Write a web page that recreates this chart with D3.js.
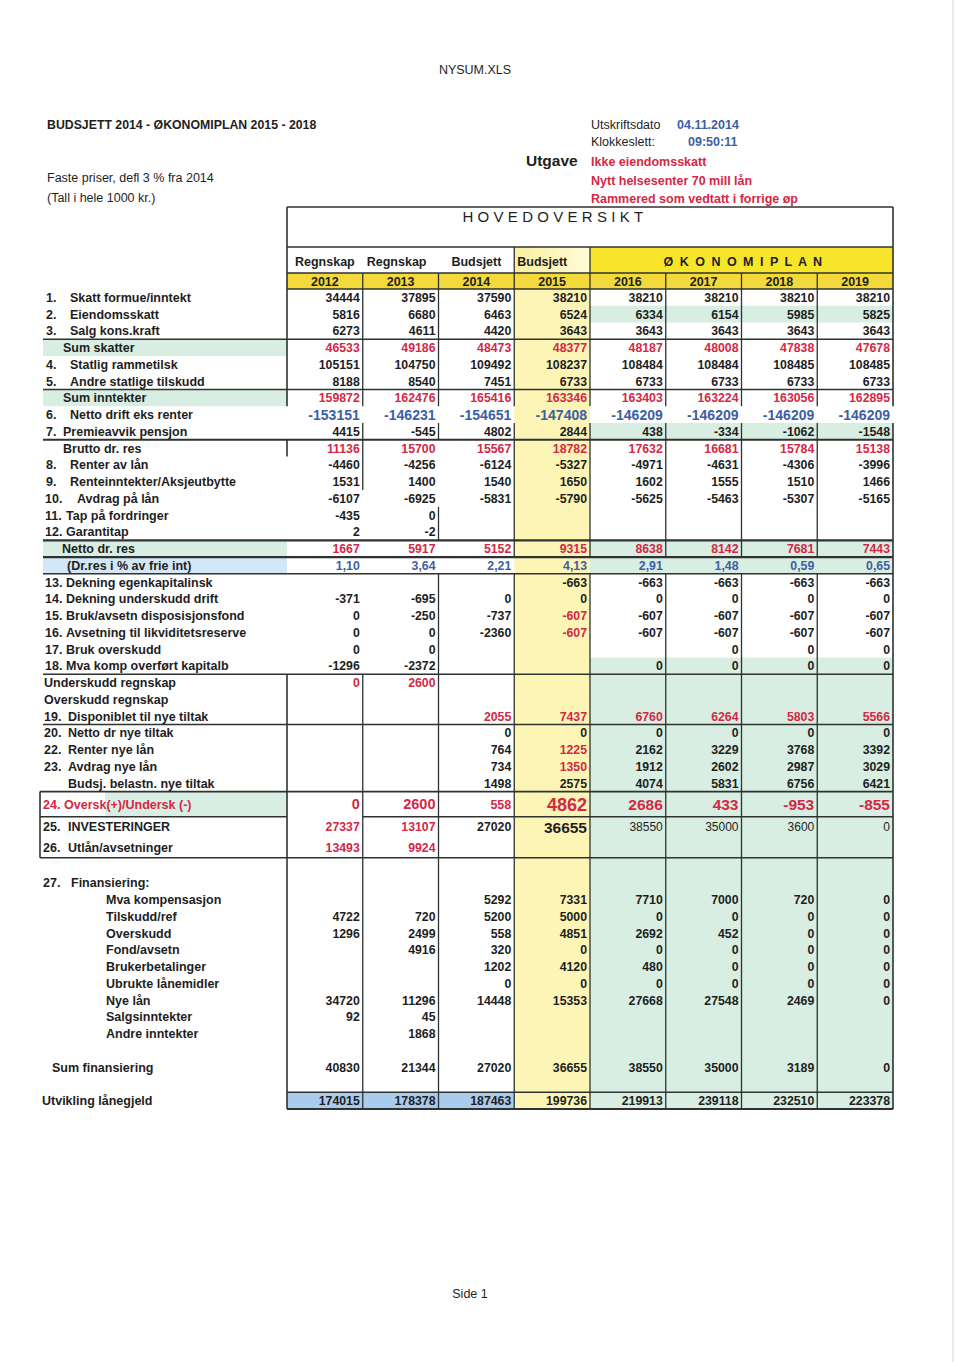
<!DOCTYPE html>
<html>
<head>
<meta charset="utf-8">
<script src="https://cdn.jsdelivr.net/npm/d3@7"></script>
<style>
  body { margin: 0; background: #fff; }
  svg text { font-family: "Liberation Sans", Arial, Helvetica, sans-serif; }
</style>
</head>
<body>
<div id="sheet"></div>
<script>
// ---- data read from the sheet ----
const years = [2012, 2013, 2014, 2015, 2016, 2017, 2018, 2019];
const colHeads = ["Regnskap", "Regnskap", "Budsjett", "Budsjett"];
const planHead = "Ø K O N O M I P L A N";
const utgave = ["Ikke eiendomsskatt", "Nytt helsesenter 70 mill lån", "Rammered som vedtatt i forrige øp"];

const N = null;
const rowNums = [
  "1.", "2.", "3.", "", "4.", "5.", "", "6.", "7.", "",
  "8.", "9.", "10.", "11.", "12.", "", "", "13.", "14.", "15.",
  "16.", "17.", "18.", "", "", "19.", "20.", "22.", "23.", "",
  "24.", "25.", "26.", "", "27.", "", "", "", "", "",
  "", "", "", "", "", "", "", ""
];
const rowLabels = [
  "Skatt formue/inntekt", "Eiendomsskatt", "Salg kons.kraft", "Sum skatter",
  "Statlig rammetilsk", "Andre statlige tilskudd", "Sum inntekter",
  "Netto drift eks renter", "Premieavvik pensjon", "Brutto dr. res",
  "Renter av lån", "Renteinntekter/Aksjeutbytte", "Avdrag på lån",
  "Tap på fordringer", "Garantitap", "Netto dr. res", "(Dr.res i % av frie int)",
  "Dekning egenkapitalinsk", "Dekning underskudd drift", "Bruk/avsetn disposisjonsfond",
  "Avsetning til likviditetsreserve", "Bruk overskudd", "Mva komp overført kapitalb",
  "Underskudd regnskap", "Overskudd regnskap", "Disponiblet til nye tiltak",
  "Netto dr nye tiltak", "Renter nye lån", "Avdrag nye lån", "Budsj. belastn. nye tiltak",
  "Oversk(+)/Undersk (-)", "INVESTERINGER", "Utlån/avsetninger", "",
  "Finansiering:", "Mva kompensasjon", "Tilskudd/ref", "Overskudd", "Fond/avsetn",
  "Brukerbetalinger", "Ubrukte lånemidler", "Nye lån", "Salgsinntekter", "Andre inntekter",
  "", "Sum finansiering", "", "Utvikling lånegjeld"
];
const rowValues = [
  [34444, 37895, 37590, 38210, 38210, 38210, 38210, 38210],
  [5816, 6680, 6463, 6524, 6334, 6154, 5985, 5825],
  [6273, 4611, 4420, 3643, 3643, 3643, 3643, 3643],
  [46533, 49186, 48473, 48377, 48187, 48008, 47838, 47678],
  [105151, 104750, 109492, 108237, 108484, 108484, 108485, 108485],
  [8188, 8540, 7451, 6733, 6733, 6733, 6733, 6733],
  [159872, 162476, 165416, 163346, 163403, 163224, 163056, 162895],
  [-153151, -146231, -154651, -147408, -146209, -146209, -146209, -146209],
  [4415, -545, 4802, 2844, 438, -334, -1062, -1548],
  [11136, 15700, 15567, 18782, 17632, 16681, 15784, 15138],
  [-4460, -4256, -6124, -5327, -4971, -4631, -4306, -3996],
  [1531, 1400, 1540, 1650, 1602, 1555, 1510, 1466],
  [-6107, -6925, -5831, -5790, -5625, -5463, -5307, -5165],
  [-435, 0, N, N, N, N, N, N],
  [2, -2, N, N, N, N, N, N],
  [1667, 5917, 5152, 9315, 8638, 8142, 7681, 7443],
  [1.10, 3.64, 2.21, 4.13, 2.91, 1.48, 0.59, 0.65],
  [N, N, N, -663, -663, -663, -663, -663],
  [-371, -695, 0, 0, 0, 0, 0, 0],
  [0, -250, -737, -607, -607, -607, -607, -607],
  [0, 0, -2360, -607, -607, -607, -607, -607],
  [0, 0, N, N, N, 0, 0, 0],
  [-1296, -2372, N, N, 0, 0, 0, 0],
  [0, 2600, N, N, N, N, N, N],
  [N, N, N, N, N, N, N, N],
  [N, N, 2055, 7437, 6760, 6264, 5803, 5566],
  [N, N, 0, 0, 0, 0, 0, 0],
  [N, N, 764, 1225, 2162, 3229, 3768, 3392],
  [N, N, 734, 1350, 1912, 2602, 2987, 3029],
  [N, N, 1498, 2575, 4074, 5831, 6756, 6421],
  [0, 2600, 558, 4862, 2686, 433, -953, -855],
  [27337, 13107, 27020, 36655, 38550, 35000, 3600, 0],
  [13493, 9924, N, N, N, N, N, N],
  [],
  [],
  [N, N, 5292, 7331, 7710, 7000, 720, 0],
  [4722, 720, 5200, 5000, 0, 0, 0, 0],
  [1296, 2499, 558, 4851, 2692, 452, 0, 0],
  [N, 4916, 320, 0, 0, 0, 0, 0],
  [N, N, 1202, 4120, 480, 0, 0, 0],
  [N, N, 0, 0, 0, 0, 0, 0],
  [34720, 11296, 14448, 15353, 27668, 27548, 2469, 0],
  [92, 45, N, N, N, N, N, N],
  [N, 1868, N, N, N, N, N, N],
  [],
  [40830, 21344, 27020, 36655, 38550, 35000, 3189, 0],
  [],
  [174015, 178378, 187463, 199736, 219913, 239118, 232510, 223378]
];

// ---- setup ----
const W = 960, H = 1362;
const RED = "#d42845", BLUE = "#3d5ea6", INK = "#1e1e1e";
const GREEN = "#d8eee2", PALE = "#fcf5b6", GOLD = "#f3d93c", YELLOW = "#f7e52c";
const LINE = "#2e3230";
const pct = d3.formatLocale({ decimal: ",", thousands: " ", grouping: [3], currency: ["", ""] }).format(".2f");

const svg = d3.select("#sheet").append("svg")
  .attr("width", W).attr("height", H);
svg.append("rect").attr("width", W).attr("height", H).attr("fill", "#fff");

const x = d3.scaleBand().domain(years).range([287, 893]).paddingInner(0);
const colL = (j) => x(years[j]);
const colR = (j) => x(years[j]) + x.bandwidth();

// row heights in "row units"; a few rows on the sheet are taller
const units = rowLabels.map((d, i) => i === 30 ? 1.5 : (i === 31 || i === 32) ? 1.225 : 1);
const cum = [0];
units.forEach((u) => cum.push(cum[cum.length - 1] + u));
const y = d3.scaleLinear().domain([0, cum[cum.length - 1]]).range([289, 1109]);
const rowTop = (i) => y(cum[i]);
const rowMid = (i) => (y(cum[i]) + y(cum[i + 1])) / 2;

const redRows = new Set([3, 6, 9, 15, 23, 25, 30, 32]);
const blueRows = new Set([7, 16]);
const redCells = new Set(["19,3", "20,3", "27,3", "28,3", "31,0", "31,1"]);

// ---- fills ----
const fills = svg.append("g");
function box(x0, y0, x1, y1, c) {
  fills.append("rect").attr("x", x0).attr("y", y0)
    .attr("width", x1 - x0).attr("height", y1 - y0).attr("fill", c);
}
// pale yellow budget column
const pg = svg.append("defs").append("linearGradient").attr("id", "pale")
  .attr("x1", 0).attr("x2", 1).attr("y1", 0).attr("y2", 0);
pg.append("stop").attr("offset", 0).attr("stop-color", "#fbf09e");
pg.append("stop").attr("offset", 1).attr("stop-color", "#fffbd8");
box(colL(3), 247, colR(3), 273, "url(#pale)");
box(colL(3), 289, colR(3), rowTop(48), PALE);
box(colL(4), 247, 893, 273, YELLOW);
box(287, 273, 893, 289, GOLD);
// green plan cells
[1, 8, 15, 16].forEach((i) => box(colL(4), rowTop(i), 893, rowTop(i + 1), GREEN));
box(colL(4), rowTop(22), 893, rowTop(48), GREEN);
// label highlights
[3, 6, 15].forEach((i) => box(43, rowTop(i), 287, rowTop(i + 1), GREEN));
box(43, rowTop(16), 287, rowTop(17), "#d3e7f6");
box(105, rowTop(30), 287, rowTop(31), GREEN);
box(colL(0), rowTop(47), colR(2), rowTop(48), "#a9cbec");

// ---- grid lines ----
const grid = svg.append("g").attr("stroke", LINE).attr("fill", "none");
function hl(x0, x1, yy, w = 1.3) {
  grid.append("line").attr("x1", x0).attr("x2", x1).attr("y1", yy).attr("y2", yy).attr("stroke-width", w);
}
function vl(xx, y0, y1, w = 1.3) {
  grid.append("line").attr("x1", xx).attr("x2", xx).attr("y1", y0).attr("y2", y1).attr("stroke-width", w);
}
hl(287, 893, 207, 1.6);
hl(287, 893, 247, 1.6);
hl(287, 893, 273);
hl(287, 893, 289, 1.6);
[3, 6, 23, 26].forEach((i) => hl(43, 893, rowTop(i), 1.6));
[9, 15, 16].forEach((i) => hl(43, 893, rowTop(i), 2.2));
hl(43, 893, rowTop(17), 1.6);
hl(40, 893, rowTop(30), 1.8);
hl(40, 287, rowTop(31), 1.6);
hl(colL(1), 893, rowTop(31), 1.6);
hl(40, 893, rowTop(33), 1.6);
hl(287, 893, rowTop(47), 1.6);
hl(287, 893, rowTop(48), 1.8);

vl(287, 207, rowTop(7), 1.6);
vl(287, rowTop(9), rowTop(10), 1.6);
vl(287, rowTop(23), rowTop(48), 1.6);
vl(40, rowTop(30), rowTop(33), 1.6);
vl(893, 207, rowTop(7), 1.6);
vl(893, rowTop(8), rowTop(48), 1.6);
// column dividers as row ranges [from, to)
const dividers = [
  [[0, 7], [8, 12], [23, 48]],
  [[0, 7], [8, 9], [13, 15], [17, 48]],
  [[0, 7], [8, 16], [17, 48]],
  [[0, 7], [8, 16], [17, 48]],
  [[0, 7], [8, 16], [17, 48]],
  [[0, 7], [8, 16], [17, 48]],
  [[0, 7], [8, 16], [17, 48]]
];
dividers.forEach((segs, k) => {
  const xx = colR(k);
  // only the budget column's edges reach up into the header row
  const head = (k === 2 || k === 3) ? 247 : 273;
  vl(xx, head, 289, 1.3);
  segs.forEach(([a, b]) => vl(xx, rowTop(a), rowTop(b), 1.3));
});

// ---- header texts ----
const t = svg.append("g").attr("fill", INK);
function txt(s, xx, yy, o = {}) {
  return t.append("text").attr("x", xx).attr("y", yy)
    .attr("font-size", o.size || 12.5)
    .attr("font-weight", o.weight || "normal")
    .attr("fill", o.fill || INK)
    .attr("text-anchor", o.anchor || "start")
    .attr("letter-spacing", o.ls || 0)
    .text(s);
}
txt("NYSUM.XLS", 475, 74, { anchor: "middle", size: 12.5 });
txt("BUDSJETT 2014 - ØKONOMIPLAN 2015 - 2018", 47, 129, { size: 12.3, weight: "bold" });
txt("Faste priser, defl 3 % fra 2014", 47, 182, { size: 12.5 });
txt("(Tall i hele 1000 kr.)", 47, 202, { size: 12.5 });
txt("Utskriftsdato", 591, 129, { size: 12.5 });
txt("04.11.2014", 677, 129, { size: 12.5, weight: "bold", fill: BLUE });
txt("Klokkeslett:", 591, 146, { size: 12.5 });
txt("09:50:11", 688, 146, { size: 12.5, weight: "bold", fill: BLUE });
txt("Utgave", 526, 166, { size: 15.5, weight: "bold" });
utgave.forEach((s, i) => txt(s, 591, 166 + i * 18.5, { size: 12.5, weight: "bold", fill: RED }));
txt("HOVEDOVERSIKT", 555, 222, { anchor: "middle", size: 15, ls: 4.3 });
txt("Side 1", 470, 1298, { anchor: "middle", size: 12.5 });

colHeads.forEach((s, j) => {
  if (j < 3) txt(s, colL(j) + x.bandwidth() / 2 + (j === 1 ? -4 : 0), 266, { anchor: "middle", weight: "bold" });
  else txt(s, colL(j) + 3, 266, { weight: "bold" });
});
txt(planHead, (colL(4) + 893) / 2 + 2, 266, { anchor: "middle", weight: "bold", ls: 1.5 });
years.forEach((yr, j) => txt(yr, colL(j) + x.bandwidth() / 2, 286, { anchor: "middle", size: 12.5, weight: "bold" }));

// ---- row labels ----
const labelPos = {
  "Sum skatter": 63, "Sum inntekter": 63, "Brutto dr. res": 63, "Netto dr. res": 62,
  "(Dr.res i % av frie int)": 67, "Underskudd regnskap": 44, "Overskudd regnskap": 44,
  "Budsj. belastn. nye tiltak": 68, "Sum finansiering": 52, "Utvikling lånegjeld": 42
};
rowLabels.forEach((lab, i) => {
  if (!lab) return;
  const num = rowNums[i];
  const n = parseInt(num);
  let nx = 46, lx;
  if (num) {
    if (n <= 9) lx = n === 7 ? 63 : 70;
    else if (n === 10) { nx = 45; lx = 77; }
    else if (n <= 18) { nx = 45; lx = 66; }
    else if (n <= 23) { nx = 44; lx = 68; }
    else if (n === 24) { nx = 43; lx = 64; }
    else if (n === 27) { nx = 43; lx = 71; }
    else { nx = 43; lx = 68; }
  } else {
    lx = labelPos[lab] !== undefined ? labelPos[lab] : 106;
  }
  const col = i === 30 ? RED : INK;
  const yy = rowMid(i) + 4.5;
  if (num) txt(num, nx, yy, { weight: "bold", fill: col });
  txt(lab, lx, yy, { weight: "bold", fill: col });
});

// ---- cell values ----
function cellSize(i, j) {
  if (i === 7) return 14;
  if (i === 30) return [14.5, 14.5, 12.5, 18, 15.5, 15.5, 15.5, 15.5][j];
  if (i === 31) return j === 3 ? 15.5 : j >= 4 ? 12 : 12.3;
  return 12.3;
}
rowValues.forEach((vals, i) => {
  vals.forEach((v, j) => {
    if (v === null || v === undefined) return;
    let c = INK;
    if (redRows.has(i) || redCells.has(i + "," + j)) c = RED;
    if (blueRows.has(i)) c = BLUE;
    const s = cellSize(i, j);
    t.append("text")
      .attr("x", colR(j) - 3)
      .attr("y", rowMid(i) + s * 0.36)
      .attr("text-anchor", "end")
      .attr("font-size", s)
      .attr("font-weight", i === 31 && j >= 4 ? "normal" : "bold")
      .attr("fill", c)
      .text(i === 16 ? pct(v) : v);
  });
});

// faint scanner edge on the right
svg.append("line").attr("x1", 953).attr("x2", 953).attr("y1", 0).attr("y2", H)
  .attr("stroke", "#e4e4e4").attr("stroke-width", 1.5);
</script>
</body>
</html>
